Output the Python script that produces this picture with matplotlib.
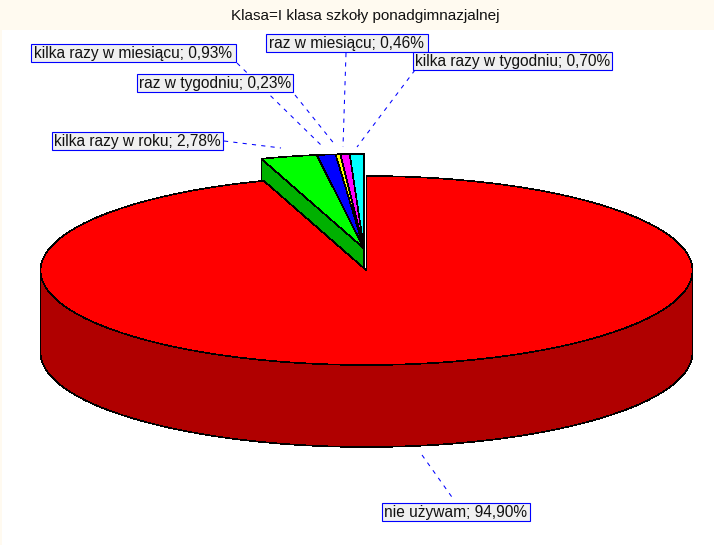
import numpy as np
import matplotlib
matplotlib.use("Agg")
import matplotlib.pyplot as plt
from matplotlib.patches import Polygon, Rectangle

plt.rcParams['font.family'] = ['Liberation Sans', 'DejaVu Sans']

title = "Klasa=I klasa szkoły ponadgimnazjalnej"
categories = ["nie używam", "kilka razy w roku", "kilka razy w miesiącu",
              "raz w tygodniu", "raz w miesiącu", "kilka razy w tygodniu"]
values = [94.90, 2.78, 0.93, 0.23, 0.46, 0.70]
value_labels = ["94,90%", "2,78%", "0,93%", "0,23%", "0,46%", "0,70%"]
top_colors = ["#FF0000", "#00FF00", "#0000FF", "#FFFF00", "#FF00FF", "#00FFFF"]
side_colors = ["#B00000", "#00B000", "#0000B0", "#B0B000", "#B000B0", "#00B0B0"]

# layout (pixels)
W, H = 714, 545
CX, CY, RX, RY, DEPTH = 366.5, 270.5, 326.0, 94.5, 82.0
EXPLODE = (-2.5, -22.0)
LW = 0.45
boxes = [(382, 503, 148, 18), (51.5, 132, 171.5, 18), (30.5, 44, 205, 18),
         (136.5, 74, 156.5, 18), (265.5, 34, 162, 18), (413, 52, 199, 18)]
leaders = [((422, 455), (454, 500)), ((224, 141), (281, 148)), ((237, 63), (322, 146)),
           ((295, 95), (336, 146)), ((346, 53), (343, 147)), ((415, 70), (357, 147))]

fig = plt.figure(figsize=(W / 100, H / 100), dpi=100, facecolor="#FFFAF0")
ax = fig.add_axes([0, 0, 1, 1])
ax.set_xlim(0, W)
ax.set_ylim(H, 0)
ax.axis("off")
ax.add_patch(Rectangle((2, 30), W - 2, H - 30, fc="white", ec="none", zorder=0))

fracs = np.cumsum([0] + values) / 100.0
starts = fracs[:-1] * 2 * np.pi
ends = fracs[1:] * 2 * np.pi


def arc(a0, a1, cx, cy, n=300):
    t = np.linspace(a0, a1, n)
    return np.column_stack([cx + RX * np.sin(t), cy - RY * np.cos(t)])


def draw_walls(a0, a1, side, cx, cy, z):
    kw = dict(fc=side, ec="black", lw=LW, joinstyle="miter", zorder=z, antialiased=False)
    p = arc(a0, a0, cx, cy, 1)[0]
    ax.add_patch(Polygon([(cx, cy), p, (p[0], p[1] + DEPTH), (cx, cy + DEPTH)], **kw))
    lo, hi = max(a0, np.pi / 2), min(a1, 3 * np.pi / 2)
    if hi > lo:
        a = arc(lo, hi, cx, cy)
        ax.add_patch(Polygon(np.vstack([a, (a + [0, DEPTH])[::-1]]), **kw))


def draw_top(a0, a1, top, cx, cy, z):
    ax.add_patch(Polygon(np.vstack([[(cx, cy)], arc(a0, a1, cx, cy)]), fc=top, ec="black", lw=LW,
                         joinstyle="miter", zorder=z, antialiased=False))


# exploded small slices first (right to left), the big slice over them
xs, ys = CX + EXPLODE[0], CY + EXPLODE[1]
n = len(values)
for i in range(n - 1, 0, -1):
    draw_walls(starts[i], ends[i], side_colors[i], xs, ys, 2 + (n - i) * 0.01)
for i in range(1, n):
    draw_top(starts[i], ends[i], top_colors[i], xs, ys, 2.5 + i * 0.01)
draw_walls(starts[0], ends[0], side_colors[0], CX, CY, 3)
draw_top(starts[0], ends[0], top_colors[0], CX, CY, 3.5)

for (p0, p1) in leaders:
    ax.plot([p0[0], p1[0]], [p0[1], p1[1]], color="#0000FF", lw=0.75, ls=(0, (4, 5)),
            zorder=5)

for name, lab, (x, y, w, h) in zip(categories, value_labels, boxes):
    ax.add_patch(Rectangle((x, y), w, h, fc="#F0F0F0", ec="#0000FF", lw=0.8, zorder=6))
    ax.text(x + w / 2, y + h / 2 + 0.5, f"{name}; {lab}", ha="center", va="center",
            fontsize=11.2, color="#111111", zorder=7)

ax.text(365, 16, title, ha="center", va="center", fontsize=11.0, color="#111111")
fig.savefig("out.png", dpi=100, facecolor=fig.get_facecolor())
